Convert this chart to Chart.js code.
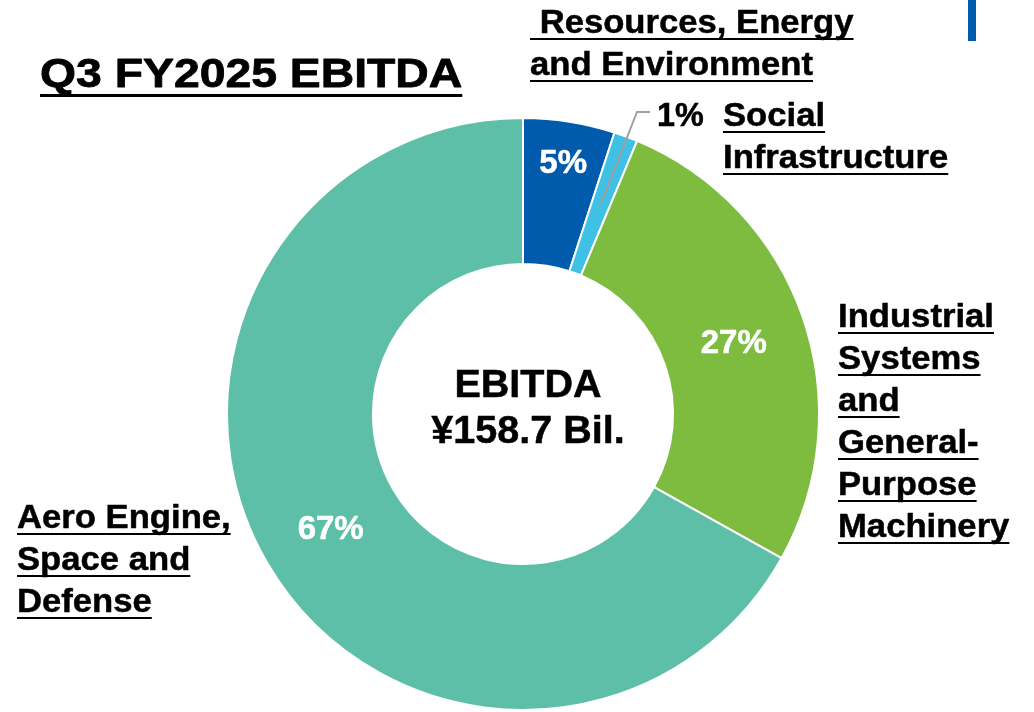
<!DOCTYPE html>
<html>
<head>
<meta charset="utf-8">
<script src="https://cdn.jsdelivr.net/npm/chart.js@4.4.1/dist/chart.umd.min.js"></script>
<style>
  html, body { margin: 0; padding: 0; background: #ffffff; }
  #wrap { width: 1034px; height: 712px; position: relative; }
</style>
</head>
<body>
<div id="wrap"><canvas id="c" width="1034" height="712"></canvas></div>
<script>
// ---- Data ----
const categories = [
  'Resources, Energy and Environment',
  'Social Infrastructure',
  'Industrial Systems and General-Purpose Machinery',
  'Aero Engine, Space and Defense'
];
const shares = [5.0, 1.3, 26.8, 66.9];
const pctLabels = ['5%', '1%', '27%', '67%'];
const segmentColors = ['#005BAC', '#3FC0E5', '#7DBC3F', '#5DBFA8'];
const titleText = 'Q3 FY2025 EBITDA';
const centerLines = ['EBITDA', '\u00A5158.7 Bil.'];
const categoryLabelLines = [
  [' Resources, Energy', 'and Environment'],
  ['Social', 'Infrastructure'],
  ['Industrial', 'Systems', 'and', 'General-', 'Purpose', 'Machinery'],
  ['Aero Engine,', 'Space and', 'Defense']
];

// ---- Layout / style (not data) ----
const FONT = '"Liberation Sans", Arial, Helvetica, sans-serif';
const labelPlacement = [
  { x: 530, y: 33 },
  { x: 723, y: 126 },
  { x: 838, y: 327 },
  { x: 17,  y: 528 }
];
const lineGap = 42;
const pctRadiusFactor = [1.15, null, 1.0, 1.0]; // relative to mid-ring radius

function drawText(ctx, txt, x, y, size, sx, color, align, underline, ulOff, ulW, stroke) {
  ctx.save();
  ctx.font = 'bold ' + size + 'px ' + FONT;
  ctx.fillStyle = color;
  ctx.strokeStyle = color;
  ctx.lineJoin = 'round';
  ctx.textBaseline = 'alphabetic';
  const w = ctx.measureText(txt).width * sx;
  let left = x;
  if (align === 'center') left = x - w / 2;
  ctx.translate(left, y);
  ctx.scale(sx, 1);
  ctx.textAlign = 'left';
  ctx.fillText(txt, 0, 0);
  ctx.lineWidth = stroke == null ? 0.5 : stroke;
  if (ctx.lineWidth > 0) ctx.strokeText(txt, 0, 0);
  ctx.restore();
  if (underline) {
    ctx.save();
    ctx.fillStyle = color;
    ctx.fillRect(left, y + ulOff, w, ulW);
    ctx.restore();
  }
}

const overlay = {
  id: 'overlay',
  afterDraw(chart) {
    const ctx = chart.ctx;
    const meta = chart.getDatasetMeta(0);
    // title
    drawText(ctx, titleText, 40, 87, 41, 1.13, '#000', 'left', true, 7, 3, 0.8);
    // top-right accent bar
    ctx.fillStyle = '#005BAC';
    ctx.fillRect(968, 0, 8, 41);

    // percentage labels inside ring
    meta.data.forEach((arc, i) => {
      const f = pctRadiusFactor[i];
      if (f == null) return;
      const p = arc.getProps(['x', 'y', 'startAngle', 'endAngle', 'innerRadius', 'outerRadius'], true);
      const mid = (p.startAngle + p.endAngle) / 2;
      const r = (p.innerRadius + p.outerRadius) / 2 * f;
      const cx = p.x + Math.cos(mid) * r;
      const cy = p.y + Math.sin(mid) * r;
      drawText(ctx, pctLabels[i], cx, cy + 12, 33, 1.0, '#ffffff', 'center', false, 0, 0, 0.5);
    });

    // leader line for small slice
    const a = meta.data[1].getProps(['x', 'y', 'startAngle', 'endAngle', 'innerRadius', 'outerRadius'], true);
    const mid1 = (a.startAngle + a.endAngle) / 2;
    const r1 = a.innerRadius + (a.outerRadius - a.innerRadius) * 0.5;
    ctx.save();
    ctx.strokeStyle = '#A0A0A0';
    ctx.lineWidth = 2;
    ctx.beginPath();
    ctx.moveTo(a.x + Math.cos(mid1) * r1, a.y + Math.sin(mid1) * r1);
    ctx.lineTo(637, 112);
    ctx.lineTo(650, 112);
    ctx.stroke();
    ctx.restore();
    drawText(ctx, pctLabels[1], 657, 126, 33, 0.98, '#000', 'left', false);

    // category labels
    categoryLabelLines.forEach((lines, i) => {
      const pl = labelPlacement[i];
      lines.forEach((ln, k) => {
        drawText(ctx, ln, pl.x, pl.y + k * lineGap, 33, 1.05, '#000', 'left', true, 5, 2);
      });
    });

    // center text
    drawText(ctx, centerLines[0], 528, 397, 38, 1.04, '#000', 'center', false);
    drawText(ctx, centerLines[1], 528, 443, 38, 1.04, '#000', 'center', false);
  }
};

new Chart(document.getElementById('c'), {
  type: 'doughnut',
  data: {
    labels: categories,
    datasets: [{
      data: shares,
      backgroundColor: segmentColors,
      borderColor: '#ffffff',
      borderWidth: 2
    }]
  },
  options: {
    responsive: false,
    animation: false,
    devicePixelRatio: 1,
    cutout: '50.7%',
    layout: { padding: { left: 226, right: 214, top: 117, bottom: 1 } },
    plugins: {
      legend: { display: false },
      tooltip: { enabled: false },
      title: { display: false }
    }
  },
  plugins: [overlay]
});
</script>
</body>
</html>
